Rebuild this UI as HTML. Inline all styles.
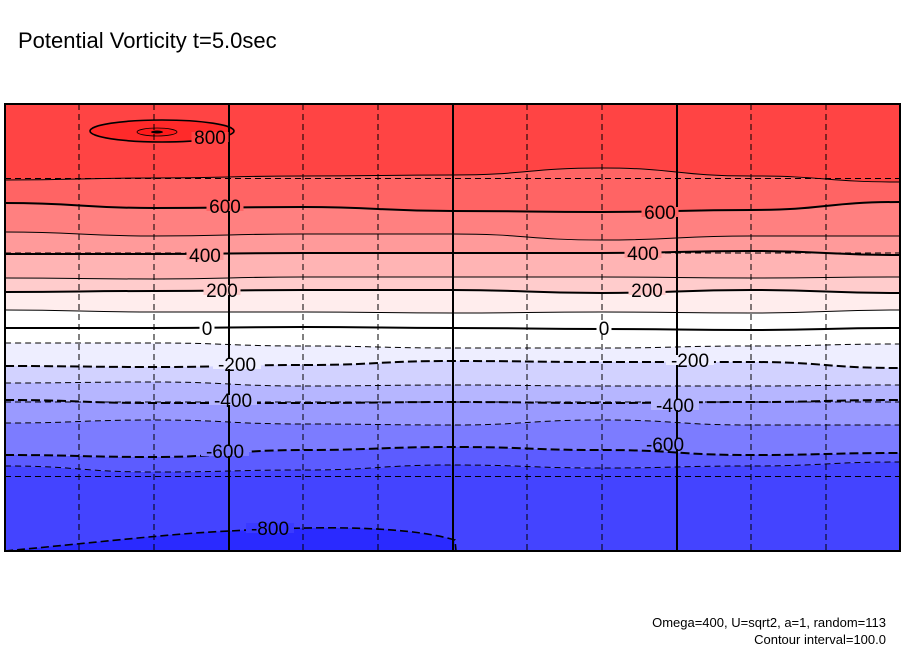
<!DOCTYPE html>
<html><head><meta charset="utf-8"><style>
body{margin:0;background:#fff;width:904px;height:654px;overflow:hidden;font-family:"Liberation Sans",sans-serif}
svg{display:block}
</style></head><body>
<svg id="chart" width="904" height="654">
<text x="18" y="48" font-size="22" fill="#000">Potential Vorticity t=5.0sec</text>
<text x="886" y="627" font-size="13" text-anchor="end">Omega=400, U=sqrt2, a=1, random=113</text>
<text x="886" y="644" font-size="13" text-anchor="end">Contour interval=100.0</text>
<g id="plot"></g>
</svg>
<script>
const levels=[700,600,500,400,300,200,100,0,-100,-200,-300,-400,-500,-600,-700];
const sampleX=[0,1,2,3,4,5,6];
const contourY=[
 [180,178,176,175,168,176,182],
 [203,208,207,211,212,210,202],
 [232,236,234,234,240,236,236],
 [254,254,253,253,253,251,255],
 [278,279,277,277,277,278,277],
 [292,291,290,290,293,290,293],
 [310,312,312,313,312,313,310],
 [328,328,327,328,329,330,328],
 [343,343,346,348,348,346,344],
 [366,367,365,361,362,362,368],
 [383,382,386,385,386,386,385],
 [400,403,403,402,403,402,400],
 [423,420,424,425,420,425,425],
 [455,457,450,447,450,455,453],
 [466,472,470,465,468,466,462]
];
const bandColors=["#ff4444","#ff6464","#ff8080","#ff9a9a","#ffb4b4","#ffcccc","#ffeded","#ffffff","#ffffff","#eeeeff","#d2d2ff","#b6b6ff","#9a9aff","#7c7cff","#5c5cff","#4444ff"];
const labelsL=[["800",210,137],["600",225,206],["400",205,255],["200",222,290],["0",207,328],["-200",237,364],["-400",233,400],["-600",225,451],["-800",270,528]];
const labelsR=[["600",660,212],["400",643,253],["200",647,290],["0",604,328],["-200",690,360],["-400",675,405],["-600",665,444]];
const L=5,R=900,T=104,B=551;
const NS="http://www.w3.org/2000/svg";
const g=document.getElementById('plot');
function xs(i){return L+(R-L)*i/(sampleX.length-1);}
function path(ys){let d='';for(let i=0;i<ys.length;i++){const x=xs(sampleX[i]);if(i==0)d+='M'+x+','+ys[i];else{const px=xs(sampleX[i-1]);const mx=(px+x)/2;d+=' C'+mx+','+ys[i-1]+' '+mx+','+ys[i]+' '+x+','+ys[i];}}return d;}
function revCurve(ys){let d='';for(let i=ys.length-1;i>0;i--){const x=xs(sampleX[i]),px=xs(sampleX[i-1]);const mx=(px+x)/2;d+=' C'+mx+','+ys[i]+' '+mx+','+ys[i-1]+' '+px+','+ys[i-1];}return d;}
function mk(t,a){const e=document.createElementNS(NS,t);for(const k in a)e.setAttribute(k,a[k]);g.appendChild(e);return e;}
for(let b=0;b<=levels.length;b++){
 const top=b==0?null:contourY[b-1];const bot=b==levels.length?null:contourY[b];
 let d;
 if(top===null){d='M'+L+','+T+' L'+R+','+T+' L'+R+','+bot[6]+revCurve(bot)+' Z';}
 else if(bot===null){d=path(top)+' L'+R+','+B+' L'+L+','+B+' Z';}
 else{d=path(top)+' L'+R+','+bot[6]+revCurve(bot)+' Z';}
 const e=mk('path',{d:d,fill:bandColors[b]});
 
 
}
const low=mk('path',{d:'M'+L+',551 C120,540 180,533 230,531 C300,527 400,524 455,540 L455,551 Z',fill:'#2a2aff'});


mk('path',{d:'M'+L+',551 C120,540 180,533 230,531 C300,527 400,524 455,540 L456,551',fill:'none',stroke:'#000','stroke-width':1.6,'stroke-dasharray':'8,4'});
const hi=mk('ellipse',{cx:162,cy:131,rx:72,ry:11,fill:'#ff2a2a',stroke:'#000','stroke-width':1.6});


mk('ellipse',{cx:157,cy:132,rx:20,ry:4,fill:'#ff1a1a',stroke:'#000','stroke-width':0.8});
mk('ellipse',{cx:157,cy:132,rx:6,ry:1.5,fill:'#000'});
levels.forEach((lv,i)=>{
 const a={d:path(contourY[i]),fill:'none',stroke:'#000','stroke-width':lv%200==0?2:1};
 if(lv<0)a['stroke-dasharray']=lv%200==0?'9,4':'6,4';
 const e=mk('path',a);
 
 
});
[79,154,303,378,527,602,751,826].forEach(x=>mk('line',{x1:x,y1:T,x2:x,y2:B,stroke:'#000','stroke-width':1,'stroke-dasharray':'6,4'}));
[178.5,253,402,476.5].forEach(y=>mk('line',{x1:L,y1:y,x2:R,y2:y,stroke:'#000','stroke-width':1,'stroke-dasharray':'6,4'}));
[229,453,677].forEach(x=>mk('line',{x1:x,y1:T,x2:x,y2:B,stroke:'#000','stroke-width':2}));
function bandAt(x,y){const c=Math.round((x-L)/(R-L)*6);let b=0;for(let i=0;i<levels.length;i++){if(y>contourY[i][c])b=i+1;}return bandColors[b];}
labelsL.concat(labelsR).forEach(l=>{
 const w=l[0].length*11+4;
 const col=l[0]==='800'?'#ff4444':(l[0]==='-800'?'#3a3aff':bandAt(l[1],l[2]-3));
 mk('rect',{x:l[1]-w/2,y:l[2]-5,width:w,height:10,fill:col});
 const t=mk('text',{x:l[1],y:l[2]+7,'font-size':19,'text-anchor':'middle',fill:'#000'});
 t.textContent=l[0];
 
 
});
const fr=mk('rect',{x:L,y:T,width:R-L,height:B-T,fill:'none',stroke:'#000','stroke-width':2});


</script>
</body></html>
